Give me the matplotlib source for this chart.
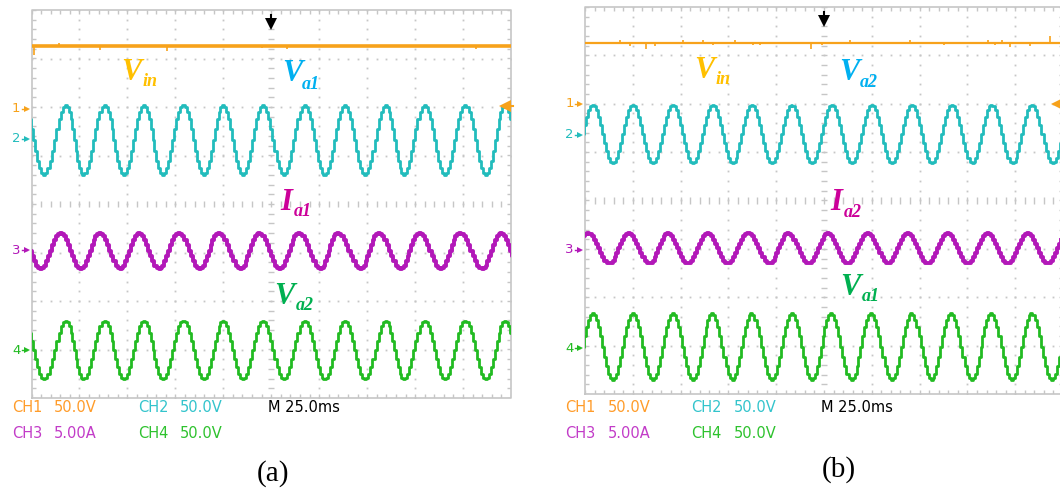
import numpy as np
import matplotlib
matplotlib.use('Agg')
import matplotlib.pyplot as plt

# oscilloscope traces (x in divisions 0..10, y in divisions -4..4)
t_span = [0, 10]

# panel (a)
vin_a = 3.26
vin_a_spike_t = [0.05, 0.58, 1.43, 2.82, 4.80, 5.33, 9.26]
vin_a_spike_h = [-0.18, 0.06, -0.08, -0.10, -0.05, -0.07, -0.07]
ch2_a_peaks = [-0.16, 0.73, 1.53, 2.35, 3.17, 4.00, 4.83, 5.70, 6.54, 7.39, 8.20, 9.05, 9.88]
ch2_a_troughs = [0.26, 1.08, 1.93, 2.74, 3.60, 4.41, 5.26, 6.11, 6.96, 7.77, 8.63, 9.48, 10.30]
ch2_a_hi, ch2_a_lo = 2.04, 0.60
ch3_a_peaks = [-0.22, 0.62, 1.43, 2.25, 3.08, 3.91, 4.75, 5.58, 6.39, 7.24, 8.09, 8.94, 9.80]
ch3_a_troughs = [0.19, 1.04, 1.86, 2.67, 3.52, 4.37, 5.19, 6.04, 6.88, 7.71, 8.55, 9.41, 10.22]
ch3_a_hi, ch3_a_lo = -0.59, -1.34
ch4_a_peaks = [-0.16, 0.73, 1.53, 2.35, 3.17, 4.00, 4.83, 5.70, 6.54, 7.39, 8.20, 9.05, 9.88]
ch4_a_troughs = [0.26, 1.08, 1.93, 2.74, 3.60, 4.41, 5.26, 6.11, 6.96, 7.77, 8.63, 9.48, 10.30]
ch4_a_hi, ch4_a_lo = -2.41, -3.61
gnd_a = [1.96, 1.35, -0.95, -3.02]
trig_a = 2.02

# panel (b)
vin_b = 3.26
vin_b_spike_t = [0.73, 0.94, 1.28, 1.46, 2.06, 2.47, 2.68, 3.14, 3.52, 3.66, 4.72, 4.95,
                 5.54, 6.80, 7.50, 8.44, 8.58, 8.72, 8.89, 9.31, 9.73]
vin_b_spike_h = [0.05, -0.06, -0.12, -0.06, 0.05, 0.05, -0.05, 0.05, -0.05, -0.05, -0.12, -0.05,
                 0.05, 0.05, -0.05, 0.05, -0.05, 0.05, -0.08, -0.06, 0.15]
ch2_b_peaks = [0.16, 1.01, 1.83, 2.67, 3.49, 4.32, 5.16, 6.00, 6.83, 7.67, 8.50, 9.34, 10.20]
ch2_b_troughs = [-0.26, 0.59, 1.43, 2.27, 3.09, 3.92, 4.74, 5.59, 6.43, 7.27, 8.11, 8.95, 9.80]
ch2_b_hi, ch2_b_lo = 1.98, 0.77
ch3_b_peaks = [0.07, 0.91, 1.74, 2.58, 3.42, 4.25, 5.09, 5.93, 6.76, 7.60, 8.44, 9.27, 10.10]
ch3_b_troughs = [-0.35, 0.52, 1.36, 2.16, 3.00, 3.87, 4.69, 5.51, 6.35, 7.18, 8.02, 8.86, 9.69]
ch3_b_hi, ch3_b_lo = -0.68, -1.30
ch4_b_peaks = [0.17, 1.01, 1.84, 2.66, 3.48, 4.32, 5.14, 5.98, 6.83, 7.66, 8.50, 9.34, 10.20]
ch4_b_troughs = [-0.26, 0.59, 1.43, 2.27, 3.09, 3.92, 4.76, 5.58, 6.42, 7.25, 8.09, 8.93, 9.77]
ch4_b_hi, ch4_b_lo = -2.33, -3.71
gnd_b = [2.0, 1.36, -1.02, -3.05]
trig_b = 2.0

ch_names = ['1', '2', '3', '4']
ch_colors = ['#f7a21b', '#22bcbc', '#b218b8', '#22bb22']
readout = [('CH1', '50.0V'), ('CH2', '50.0V'), ('CH3', '5.00A'), ('CH4', '50.0V')]
readout_colors = ['#ff9c2a', '#33c4cc', '#c23cc8', '#2ec22e']
timebase = 'M 25.0ms'

W, H = 1060, 491
fig = plt.figure(figsize=(W / 100, H / 100), dpi=100)


def px_axes(l, t, r, b):
    ax = fig.add_axes([l / W, 1 - b / H, (r - l) / W, (b - t) / H])
    ax.set_xlim(0, 10)
    ax.set_ylim(-4, 4)
    ax.axis('off')
    return ax


def ftxt(x, y, s, **kw):
    fig.text(x / W, 1 - y / H, s, **kw)


def draw_grid(ax):
    g = '#c6c6c6'
    ax.plot([0, 10, 10, 0, 0], [-4, -4, 4, 4, -4], color=g, lw=1.2, clip_on=False, zorder=1)
    xs = np.arange(0, 10.001, 0.2)
    ys = np.arange(-4, 4.001, 0.2)
    ax.vlines(xs, 3.91, 4, color=g, lw=1, zorder=1)
    ax.vlines(xs, -4, -3.91, color=g, lw=1, zorder=1)
    ax.hlines(ys, 0, 0.09, color=g, lw=1, zorder=1)
    ax.hlines(ys, 9.91, 10, color=g, lw=1, zorder=1)
    for xv in range(1, 10):
        if xv != 5:
            ax.plot(np.full(len(ys), xv), ys, ls='none', marker='s', ms=1.3, color=g, mew=0, zorder=1)
    for yv in range(-3, 4):
        if yv != 0:
            ax.plot(xs, np.full(len(xs), yv), ls='none', marker='s', ms=1.3, color=g, mew=0, zorder=1)
    ax.hlines(ys, 4.94, 5.06, color=g, lw=1, zorder=1)
    ax.vlines(xs, -0.07, 0.07, color=g, lw=1, zorder=1)


def wave(peaks, troughs, hi, lo, n=10):
    ext = sorted([(t, hi) for t in peaks] + [(t, lo) for t in troughs])
    xs, ys = [], []
    for (t0, v0), (t1, v1) in zip(ext[:-1], ext[1:]):
        s = np.linspace(0, 1, n, endpoint=False)
        xs.append(t0 + (t1 - t0) * s)
        ys.append(v0 + (v1 - v0) * (1 - np.cos(np.pi * s)) / 2)
    return np.concatenate(xs), np.concatenate(ys)


def draw_panel(ax, vin, sp_t, sp_h, vin_lw, traces, gnd, trig):
    draw_grid(ax)
    ax.plot(t_span, [vin, vin], color=ch_colors[0], lw=vin_lw, zorder=3, solid_capstyle='butt')
    ax.vlines(sp_t, vin, np.array(sp_h) + vin, color=ch_colors[0], lw=1.2, zorder=3)
    for (pk, tr, hi, lo), c, lw in zip(traces, ch_colors[1:], [2.0, 2.8, 2.0]):
        x, y = wave(pk, tr, hi, lo)
        ax.plot(x, y, color=c, lw=lw, drawstyle='steps-mid', zorder=3)
    for name, lvl, c in zip(ch_names, gnd, ch_colors):
        ax.plot(-0.1, lvl, marker='>', ms=4.5, color=c, clip_on=False, mew=0)
        ax.plot([-0.2, -0.1], [lvl, lvl], color=c, lw=1, clip_on=False)
        ax.text(-0.32, lvl, name, color=c, fontsize=9.5, ha='center', va='center',
                family='DejaVu Sans')
    # trigger level and position markers
    ax.plot(9.87, trig, marker='<', ms=8, color=ch_colors[0], clip_on=False, mew=0, zorder=4)
    ax.plot([9.87, 10.05], [trig, trig], color=ch_colors[0], lw=1.5, clip_on=False, zorder=4)
    ax.plot(5, 3.72, marker='v', ms=8, color='black', clip_on=False, mew=0, zorder=4)
    ax.plot([5, 5], [3.72, 3.9], color='black', lw=1.5, clip_on=False, zorder=4)


ax_a = px_axes(31.5, 10, 511, 398)
ax_b = px_axes(585, 7, 1063, 394)

draw_panel(ax_a, vin_a, vin_a_spike_t, vin_a_spike_h, 2.6,
           [(ch2_a_peaks, ch2_a_troughs, ch2_a_hi, ch2_a_lo),
            (ch3_a_peaks, ch3_a_troughs, ch3_a_hi, ch3_a_lo),
            (ch4_a_peaks, ch4_a_troughs, ch4_a_hi, ch4_a_lo)], gnd_a, trig_a)
draw_panel(ax_b, vin_b, vin_b_spike_t, vin_b_spike_h, 1.6,
           [(ch2_b_peaks, ch2_b_troughs, ch2_b_hi, ch2_b_lo),
            (ch3_b_peaks, ch3_b_troughs, ch3_b_hi, ch3_b_lo),
            (ch4_b_peaks, ch4_b_troughs, ch4_b_hi, ch4_b_lo)], gnd_b, trig_b)

# bold italic signal labels: (main, sub, x, baseline, sub x, sub baseline, colour)
lab_font = dict(family='Liberation Serif', weight='bold', style='italic', va='baseline', ha='left')
labels = [
    ('V', 'in', 121, 80, 143, 86, '#ffc000'),
    ('V', 'a1', 282, 81, 302, 89, '#00b0f0'),
    ('I', 'a1', 280, 210, 294, 216, '#cc0099'),
    ('V', 'a2', 274, 304, 296, 310, '#00b050'),
    ('V', 'in', 694, 78, 716, 84, '#ffc000'),
    ('V', 'a2', 839, 80, 860, 87, '#00b0f0'),
    ('I', 'a2', 830, 210, 844, 217, '#cc0099'),
    ('V', 'a1', 840, 295, 862, 301, '#00b050'),
]
for m, s, x, y, sx, sy, c in labels:
    ftxt(x, y, m, color=c, fontsize=22, **lab_font)
    ftxt(sx, sy, s, color=c, fontsize=13, **lab_font)

# scope readouts under each screen
for left in [31.5, 585]:
    cols = [left - 19.5, left + 106.5]
    for i, ((ch, val), c) in enumerate(zip(readout, readout_colors)):
        x = cols[i % 2]
        y = 407 if i < 2 else 433
        ftxt(x, y, ch, color=c, fontsize=10.5, va='center', ha='left', family='DejaVu Sans')
        ftxt(x + 42, y, val, color=c, fontsize=10.5, va='center', ha='left', family='DejaVu Sans')
    ftxt(left + 236, 407, timebase, color='black', fontsize=10.5, va='center', ha='left',
         family='DejaVu Sans')

ftxt(273, 474, '(a)', fontsize=21, ha='center', va='center', family='Liberation Serif')
ftxt(839, 470, '(b)', fontsize=21, ha='center', va='center', family='Liberation Serif')

fig.savefig('out.png', dpi=100)
